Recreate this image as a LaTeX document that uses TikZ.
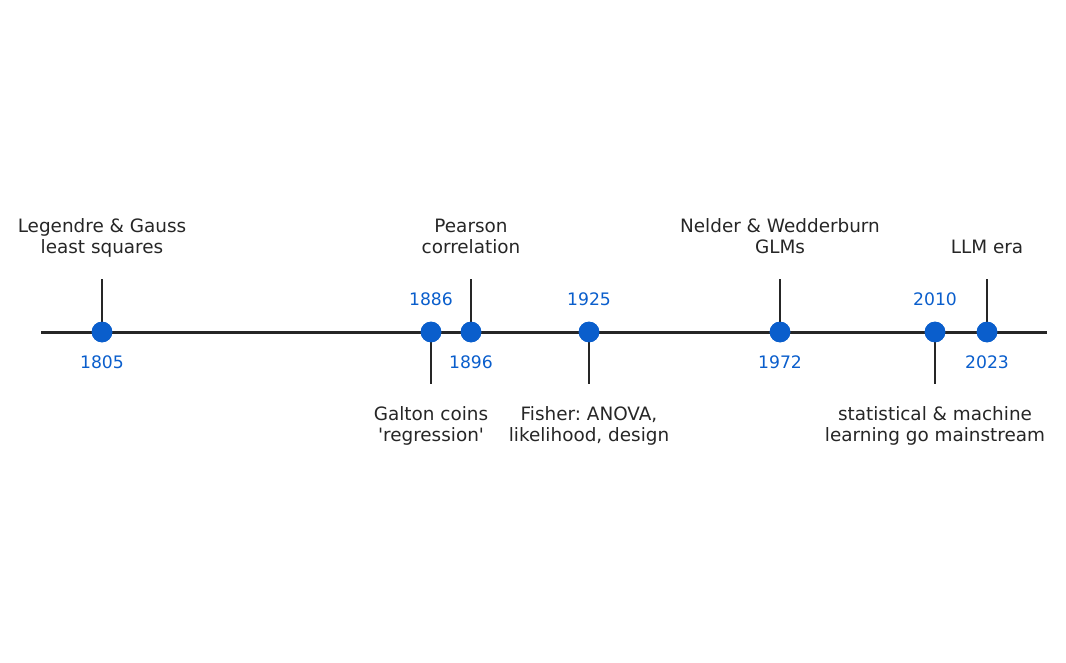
\documentclass[tikz,border=0pt]{standalone}
\usepackage{fontspec}
\setmainfont{DejaVu Sans}
\frenchspacing
\definecolor{evblue}{RGB}{10,94,204}
\definecolor{ink}{RGB}{38,38,38}
\begin{document}
\begin{tikzpicture}[x=0.75pt,y=-0.75pt,
  dot/.style={circle,fill=evblue,draw=none,minimum size=15.5pt,inner sep=0},
  stem/.style={draw=ink,line width=1.5pt},
  axisline/.style={draw=ink,line width=2.25pt},
  evlabel/.style={text=ink,font=\fontsize{13.8}{15.75}\selectfont,align=center,inner sep=0,anchor=base},
  yearlabel/.style={text=evblue,font=\fontsize{12.9}{15}\selectfont,inner sep=0,anchor=base}]
\useasboundingbox (0,0) rectangle (1066,663);
% axis
\coordinate (axL) at (41,332);
\coordinate (axR) at (1047,332);
\draw[axisline] (axL) -- (axR);
% stem ends
\coordinate (t1805) at (102,279);
\coordinate (b1886) at (431,384);
\coordinate (t1896) at (471,279);
\coordinate (b1925) at (589,384);
\coordinate (t1972) at (780,279);
\coordinate (b2010) at (935,384);
\coordinate (t2023) at (987,279);
% dots
\node[dot] (e1805) at (102,332) {};
\node[dot] (e1886) at (431,332) {};
\node[dot] (e1896) at (471,332) {};
\node[dot] (e1925) at (589,332) {};
\node[dot] (e1972) at (780,332) {};
\node[dot] (e2010) at (935,332) {};
\node[dot] (e2023) at (987,332) {};
% stems
\draw[stem] (e1805.center) -- (t1805);
\draw[stem] (e1886.center) -- (b1886);
\draw[stem] (e1896.center) -- (t1896);
\draw[stem] (e1925.center) -- (b1925);
\draw[stem] (e1972.center) -- (t1972);
\draw[stem] (e2010.center) -- (b2010);
\draw[stem] (e2023.center) -- (t2023);
% dots on top of stems
\foreach \p in {e1805,e1886,e1896,e1925,e1972,e2010,e2023}
  \fill[evblue] (\p.center) circle[radius=10.3];
% event labels
\node[evlabel] (l1805) at (102,253) {Legendre \& Gauss\\least squares};
\node[evlabel] (l1896) at (471,253) {Pearson\\correlation};
\node[evlabel] (l1972) at (780,253) {Nelder \& Wedderburn\\GLMs};
\node[evlabel] (l2023) at (987,253) {LLM era};
\node[evlabel] (l1886) at (431,441) {Galton coins\\\textquotesingle regression\textquotesingle};
\node[evlabel] (l1925) at (589,441) {Fisher: ANOVA,\\likelihood, design};
\node[evlabel] (l2010) at (935,441) {statistical \& machine\\learning go mainstream};
% years
\node[yearlabel] (y1805) at (102,368) {1805};
\node[yearlabel] (y1886) at (431,305) {1886};
\node[yearlabel] (y1896) at (471,368) {1896};
\node[yearlabel] (y1925) at (589,305) {1925};
\node[yearlabel] (y1972) at (780,368) {1972};
\node[yearlabel] (y2010) at (935,305) {2010};
\node[yearlabel] (y2023) at (987,368) {2023};
\end{tikzpicture}
\end{document}
